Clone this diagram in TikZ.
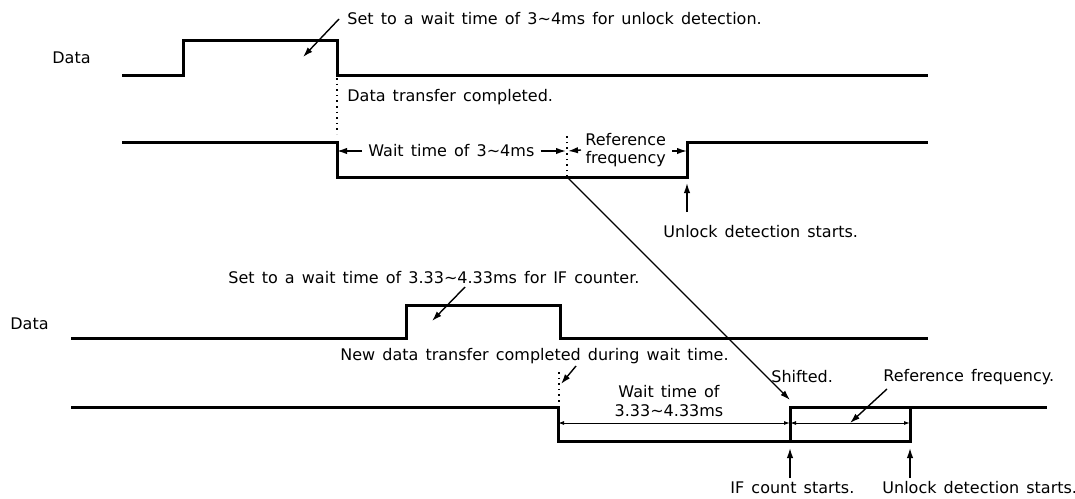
\documentclass[tikz,border=0pt]{standalone}
\usepackage{fontspec}
\setmainfont[WordSpace=1.4]{DejaVu Sans}
\usetikzlibrary{positioning,calc,arrows.meta}

\begin{document}
\begin{tikzpicture}[x=0.5pt, y=-0.5pt, font=\fontsize{8}{9.2}\selectfont,
    sig/.style={line width=1.5pt},
    lbl/.style={anchor=west, inner sep=0pt},
    note/.style={line width=0.7pt, -{Latex[length=5pt,width=3.2pt]}},
    dimline/.style={line width=0.5pt, {Latex[length=3pt,width=2pt]}-{Latex[length=3pt,width=2pt]}},
    dots/.style={line width=0.8pt, dotted}]
    \useasboundingbox (0,0) rectangle (1075,498);

    % upper chart: unlock detection
    \node [lbl] (dataA) at (52,58) {Data};
    \draw [sig] (122,75) -- (183,75) -- (183,40) -- (337,40) -- (337,75) coordinate (fallA) -- (928,75);
    \draw [sig] (122,142) -- (337,142) coordinate (stepA) -- (337,177) -- (687,177) coordinate (riseA) -- (687,142) -- (928,142);
    \coordinate (markA) at (567,177);
    \draw [dots] (fallA) ++(0,3) -- ++(0,56);
    \draw [dots] (markA) -- ++(0,-44);

    \node [lbl] (setA) at (347,19) {Set to a wait time of 3∼4ms for unlock detection.};
    \coordinate (tipA) at (303,57);
    \draw [note] ([xshift=-4pt]setA.west) -- (tipA);
    \node [lbl] (doneA) at (347,97) {Data transfer completed.};

    \node [lbl] (waitA) at (368,151) {Wait time of 3∼4ms};
    \draw [note] ([xshift=-3pt]waitA.west) -- (stepA |- waitA);
    \draw [note] ([xshift=3pt]waitA.east) -- ([xshift=-0.5pt]markA |- waitA);
    \node [lbl, align=center] (refA) at (585,150) {Reference\\frequency};
    \draw [note] ([xshift=-2pt]refA.west) -- ([xshift=0.5pt]markA |- waitA);
    \draw [note] ([xshift=3pt]refA.east |- waitA) -- (riseA |- waitA);
    \draw [note] (riseA) ++(0,35) -- ++(0,-29);
    \node [lbl] (unlockA) at (663,232) {Unlock detection starts.};

    % lower chart: IF counter
    \node [lbl] (dataB) at (10,324) {Data};
    \draw [sig] (71,338) -- (406,338) -- (406,305) -- (560,305) -- (560,338) coordinate (fallB) -- (928,338);
    \draw [sig] (71,407) -- (558,407) -- (558,441) coordinate (lowB) -- (790,441) coordinate (ifB) -- (790,407) -- (1047,407);
    \draw [sig] (ifB) -- (910,441) coordinate (unlB) -- (910,407);
    \draw [dots] (559,372) -- (559,405);

    \node [lbl] (setB) at (228,278) {Set to a wait time of 3.33∼4.33ms for IF counter.};
    \coordinate (tipB) at (432,321);
    \draw [note] (465,287) -- (tipB);
    \node [lbl] (newB) at (340,356) {New data transfer completed during wait time.};
    \draw [note] (576,366) -- (561,384);

    \draw [dimline] (lowB |- 0,423) -- (ifB |- 0,423) coordinate (midB);
    \draw [dimline] (midB) -- (unlB |- midB);
    \node [align=center, inner sep=0pt] (waitB) at (669,401) {Wait time of\\3.33∼4.33ms};
    \node [lbl] (shiftB) at (771,377) {Shifted.};
    \node [lbl] (refB) at (883,377) {Reference frequency.};
    \draw [note] (887,389) -- (850,423);

    % shifted start of the count
    \draw [note] (markA) -- (790,400);

    \foreach \c in {ifB,unlB}
        \draw [note] (\c) ++(0,37) -- ++(0,-30);
    \node [lbl] (ifcnt) at (730,488) {IF count starts.};
    \node [lbl] (unlockB) at (882,488) {Unlock detection starts.};
\end{tikzpicture}
\end{document}
